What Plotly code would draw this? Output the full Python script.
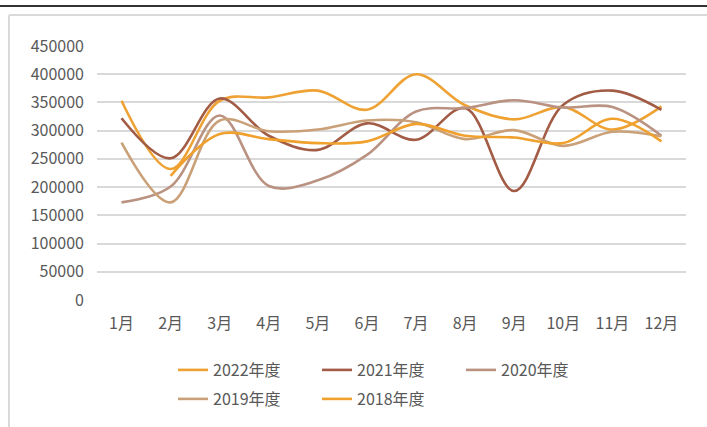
import plotly.graph_objects as go

months = ["1月", "2月", "3月", "4月", "5月", "6月", "7月", "8月", "9月", "10月", "11月", "12月"]
y2022 = [353000, 232000, 353000, 359000, 371000, 337000, 400000, 345000, 320000, 342000, 302000, 343000]
y2021 = [322000, 251000, 357000, 291000, 266000, 313000, 284000, 340000, 193000, 346000, 371000, 337000]
y2020 = [173000, 201000, 327000, 202000, 212000, 257000, 334000, 340000, 354000, 341000, 342000, 291000]
y2019 = [279000, 173000, 318000, 299000, 302000, 318000, 315000, 285000, 301000, 273000, 298000, 290000]
y2018 = [None, 220000, 294000, 285000, 278000, 281000, 312000, 291000, 288000, 278000, 321000, 281000]
yticks = [0, 50000, 100000, 150000, 200000, 250000, 300000, 350000, 400000, 450000]

series = [
    ("2022年度", y2022, "#EFA234", "legend"),
    ("2021年度", y2021, "#A25B45", "legend"),
    ("2020年度", y2020, "#B99282", "legend"),
    ("2019年度", y2019, "#C9A077", "legend2"),
    ("2018年度", y2018, "#F0A02C", "legend2"),
]

FONT = "Noto Sans CJK SC, Noto Sans, sans-serif"
fig = go.Figure()
for name, vals, color, lg in series:
    fig.add_trace(go.Scatter(
        x=months, y=vals, name=name, mode="lines",
        line=dict(color=color, width=2.6, shape="spline", smoothing=1.0),
        connectgaps=False, legend=lg,
    ))

W, H = 707, 427
L, R, T, B = 97, 21, 46, 127
pw, ph = W - L - R, H - T - B

def px2x(p):
    return (p - L) / pw

def py2y(p):
    return 1 - (p - T) / ph

legend_common = dict(
    orientation="h", xref="paper", yref="paper",
    xanchor="left", yanchor="middle",
    font=dict(family=FONT, size=16, color="#595959"),
    entrywidth=99, entrywidthmode="pixels",
    bgcolor="rgba(0,0,0,0)", borderwidth=0, tracegroupgap=0,
)

fig.update_layout(
    width=W, height=H,
    margin=dict(l=L, r=R, t=T, b=B, autoexpand=False),
    paper_bgcolor="white", plot_bgcolor="white",
    font=dict(family=FONT, size=16, color="#595959"),
    showlegend=True,
    legend=dict(x=px2x(173), y=py2y(370), **legend_common),
    legend2=dict(x=px2x(173), y=py2y(399), **legend_common),
    xaxis=dict(
        type="category", showgrid=False, zeroline=False, showline=False,
        ticks="", ticklabelstandoff=12,
        tickfont=dict(family=FONT, size=16, color="#595959"),
        range=[-0.5, 11.5], fixedrange=True,
    ),
    yaxis=dict(
        range=[0, 450000], tickvals=yticks, ticktext=[str(v) for v in yticks],
        showgrid=True, gridcolor="#D9D9D9", gridwidth=1.5,
        zeroline=False, showline=False, ticks="", ticklabelstandoff=12,
        tickfont=dict(family=FONT, size=16, color="#595959"),
        fixedrange=True,
    ),
    shapes=[
        dict(type="line", xref="paper", yref="paper", x0=px2x(0), x1=px2x(707),
             y0=py2y(6), y1=py2y(6), line=dict(color="#333333", width=2)),
        dict(type="line", xref="paper", yref="paper", x0=px2x(9), x1=px2x(707),
             y0=py2y(15), y1=py2y(15), line=dict(color="#D9D9D9", width=2)),
        dict(type="line", xref="paper", yref="paper", x0=px2x(9), x1=px2x(9),
             y0=py2y(15), y1=py2y(427), line=dict(color="#D9D9D9", width=2)),
    ],
)

fig.write_html(
    "out.html",
    config={"displayModeBar": False},
    post_script="document.body.style.margin='0';document.body.style.overflow='hidden';",
)
